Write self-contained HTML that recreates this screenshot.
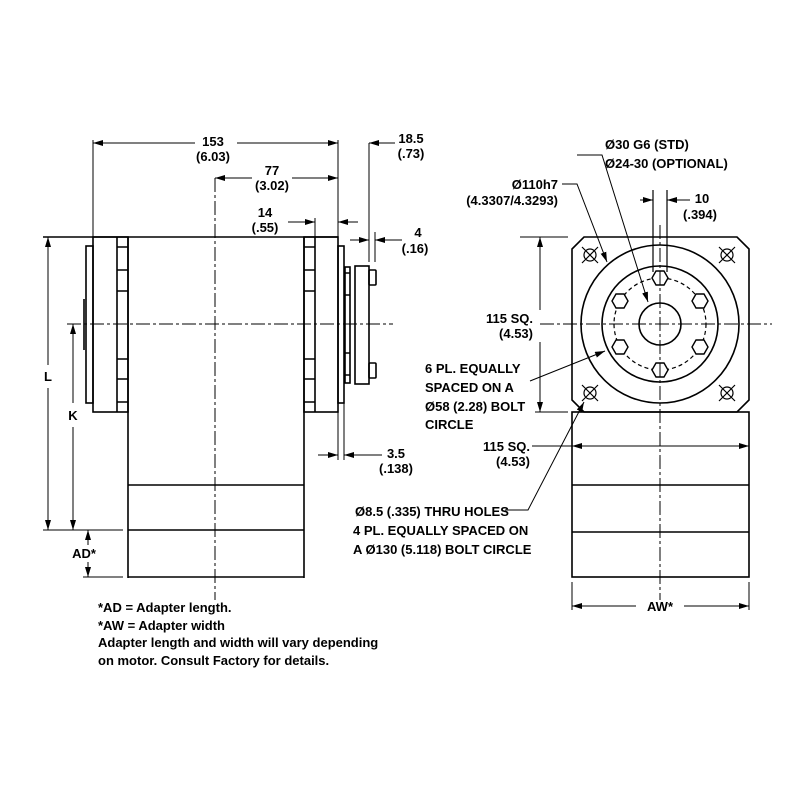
<!DOCTYPE html>
<html><head><meta charset="utf-8"><style>
html,body{margin:0;padding:0;background:#fff}
svg{display:block}
text{font-family:"Liberation Sans Narrow","Liberation Sans",sans-serif;font-weight:bold;font-size:13px;fill:#000}
</style></head><body>
<svg width="800" height="800" viewBox="0 0 800 800" xmlns="http://www.w3.org/2000/svg">
<defs>
<marker id="a" viewBox="0 0 10 6" refX="10" refY="3" markerWidth="10" markerHeight="6" orient="auto-start-reverse" markerUnits="userSpaceOnUse"><path d="M0,0 L10,3 L0,6 z" fill="#000"/></marker>
</defs>
<g stroke="#000" stroke-width="1.6" fill="none">
<line x1="43" y1="237" x2="338" y2="237"/>
<rect x="93" y="237" width="35" height="175"/>
<line x1="117" y1="237" x2="117" y2="412"/>
<path d="M117 247H128M117 270H128M117 291H128M117 359H128M117 379H128M117 402H128"/>
<rect x="86" y="246" width="7" height="157"/>
<line x1="84" y1="299" x2="84" y2="350"/>
<line x1="128" y1="237" x2="128" y2="578"/>
<line x1="304" y1="237" x2="304" y2="578"/>
<line x1="128" y1="485" x2="304" y2="485"/>
<line x1="128" y1="530" x2="304" y2="530"/>
<line x1="128" y1="577" x2="304" y2="577"/>
<rect x="304" y="237" width="34" height="175"/>
<line x1="315" y1="237" x2="315" y2="412"/>
<path d="M304 247H315M304 270H315M304 291H315M304 359H315M304 379H315M304 402H315"/>
<rect x="338" y="246" width="6" height="157"/>
<rect x="345" y="267" width="5" height="116"/>
<path d="M345 273H350M345 295H350M345 353H350M345 375H350"/>
<rect x="355" y="266" width="14" height="118"/>
<rect x="369" y="270" width="7" height="15" rx="1"/>
<rect x="369" y="363" width="7" height="15" rx="1"/>
<line x1="67" y1="324" x2="393" y2="324" stroke-width="1" stroke-dasharray="14,3,3,3"/>
<line x1="215" y1="178" x2="215" y2="600" stroke-width="1" stroke-dasharray="14,3,3,3"/>
<line x1="93" y1="140" x2="93" y2="237" stroke-width="1"/>
<line x1="338" y1="140" x2="338" y2="237" stroke-width="1"/>
<path d="M93 143H195" stroke-width="1" marker-start="url(#a)"/>
<path d="M237 143H338" stroke-width="1" marker-end="url(#a)"/>
<path d="M215 178H252" stroke-width="1" marker-start="url(#a)"/>
<path d="M292 178H338" stroke-width="1" marker-end="url(#a)"/>
<line x1="315" y1="218" x2="315" y2="237" stroke-width="1"/>
<path d="M288 222H315" stroke-width="1" marker-end="url(#a)"/>
<path d="M358 222H338" stroke-width="1" marker-end="url(#a)"/>
<line x1="369" y1="143" x2="369" y2="262" stroke-width="1"/>
<path d="M395 143H369" stroke-width="1" marker-end="url(#a)"/>
<line x1="375" y1="232" x2="375" y2="262" stroke-width="1"/>
<path d="M350 240H369" stroke-width="1" marker-end="url(#a)"/>
<path d="M402 240H375" stroke-width="1" marker-end="url(#a)"/>
<line x1="338" y1="412" x2="338" y2="460" stroke-width="1"/>
<line x1="344" y1="403" x2="344" y2="460" stroke-width="1"/>
<path d="M318 455H338" stroke-width="1" marker-end="url(#a)"/>
<path d="M382 455H344" stroke-width="1" marker-end="url(#a)"/>
<path d="M48 365V237" stroke-width="1" marker-end="url(#a)"/>
<path d="M48 388V530" stroke-width="1" marker-end="url(#a)"/>
<path d="M73 403V324" stroke-width="1" marker-end="url(#a)"/>
<path d="M73 427V530" stroke-width="1" marker-end="url(#a)"/>
<line x1="43" y1="530" x2="123" y2="530" stroke-width="1"/>
<line x1="83" y1="577" x2="123" y2="577" stroke-width="1"/>
<path d="M88 545V530" stroke-width="1" marker-end="url(#a)"/>
<path d="M88 562V577" stroke-width="1" marker-end="url(#a)"/>
<path d="M584 237H737L749 249V400L737 412H584L572 400V249Z"/>
<circle cx="660" cy="324" r="79"/>
<circle cx="660" cy="324" r="58"/>
<circle cx="660" cy="324" r="46" stroke-width="1.2" stroke-dasharray="4,3"/>
<circle cx="660" cy="324" r="21"/>
<g stroke-width="1.4" fill="#fff">
<polygon points="668,278 664,285 656,285 652,278 656,271 664,271"/>
<polygon points="668,370 664,377 656,377 652,370 656,363 664,363"/>
<polygon points="708,301 704,308 696,308 692,301 696,294 704,294"/>
<polygon points="708,347 704,354 696,354 692,347 696,340 704,340"/>
<polygon points="628,301 624,308 616,308 612,301 616,294 624,294"/>
<polygon points="628,347 624,354 616,354 612,347 616,340 624,340"/>
</g>
<g stroke-width="1.2">
<circle cx="590" cy="255" r="6"/><path d="M582 247L598 263M598 247L582 263"/>
<circle cx="727" cy="255" r="6"/><path d="M719 247L735 263M735 247L719 263"/>
<circle cx="590" cy="393" r="6"/><path d="M582 385L598 401M598 385L582 401"/>
<circle cx="727" cy="393" r="6"/><path d="M719 385L735 401M735 385L719 401"/>
</g>
<line x1="653" y1="190" x2="653" y2="272" stroke-width="1.2"/>
<line x1="667" y1="190" x2="667" y2="272" stroke-width="1.2"/>
<path d="M640 200H653" stroke-width="1" marker-end="url(#a)"/>
<path d="M690 200H667" stroke-width="1" marker-end="url(#a)"/>
<line x1="660" y1="225" x2="660" y2="600" stroke-width="1" stroke-dasharray="14,3,3,3"/>
<line x1="540" y1="324" x2="772" y2="324" stroke-width="1" stroke-dasharray="14,3,3,3"/>
<rect x="572" y="412" width="177" height="165"/>
<line x1="572" y1="485" x2="749" y2="485"/>
<line x1="572" y1="532" x2="749" y2="532"/>
<line x1="520" y1="237" x2="568" y2="237" stroke-width="1"/>
<line x1="535" y1="412" x2="568" y2="412" stroke-width="1"/>
<path d="M540 310V237" stroke-width="1" marker-end="url(#a)"/>
<path d="M540 342V412" stroke-width="1" marker-end="url(#a)"/>
<path d="M532 446H749" stroke-width="1" marker-end="url(#a)"/>
<path d="M600 446H572" stroke-width="1" marker-end="url(#a)"/>
<line x1="572" y1="582" x2="572" y2="610" stroke-width="1"/>
<line x1="749" y1="582" x2="749" y2="610" stroke-width="1"/>
<path d="M636 606H572" stroke-width="1" marker-end="url(#a)"/>
<path d="M684 606H749" stroke-width="1" marker-end="url(#a)"/>
<path d="M577 155H602L648 302" stroke-width="1" marker-end="url(#a)"/>
<path d="M562 184H577L607 262" stroke-width="1" marker-end="url(#a)"/>
<path d="M530 381L605 351" stroke-width="1" marker-end="url(#a)"/>
<path d="M505 510H528L584 402" stroke-width="1" marker-end="url(#a)"/>
</g>
<text x="213" y="146" text-anchor="middle">153</text>
<text x="213" y="161" text-anchor="middle">(6.03)</text>
<text x="272" y="175" text-anchor="middle">77</text>
<text x="272" y="190" text-anchor="middle">(3.02)</text>
<text x="265" y="217" text-anchor="middle">14</text>
<text x="265" y="232" text-anchor="middle">(.55)</text>
<text x="411" y="143" text-anchor="middle">18.5</text>
<text x="411" y="158" text-anchor="middle">(.73)</text>
<text x="418" y="237" text-anchor="middle">4</text>
<text x="415" y="253" text-anchor="middle">(.16)</text>
<text x="396" y="458" text-anchor="middle">3.5</text>
<text x="396" y="473" text-anchor="middle">(.138)</text>
<text x="48" y="381" text-anchor="middle">L</text>
<text x="73" y="420" text-anchor="middle">K</text>
<text x="84" y="558" text-anchor="middle">AD*</text>
<text x="605" y="149">Ø30 G6 (STD)</text>
<text x="605" y="168">Ø24-30 (OPTIONAL)</text>
<text x="558" y="189" text-anchor="end">Ø110h7</text>
<text x="558" y="205" text-anchor="end">(4.3307/4.3293)</text>
<text x="702" y="203" text-anchor="middle">10</text>
<text x="700" y="219" text-anchor="middle">(.394)</text>
<text x="533" y="323" text-anchor="end">115 SQ.</text>
<text x="533" y="338" text-anchor="end">(4.53)</text>
<text x="530" y="451" text-anchor="end">115 SQ.</text>
<text x="530" y="466" text-anchor="end">(4.53)</text>
<text x="425" y="373">6 PL. EQUALLY</text>
<text x="425" y="392">SPACED ON A</text>
<text x="425" y="411">Ø58 (2.28) BOLT</text>
<text x="425" y="429">CIRCLE</text>
<text x="355" y="516">Ø8.5 (.335) THRU HOLES</text>
<text x="353" y="535">4 PL. EQUALLY SPACED ON</text>
<text x="353" y="554">A Ø130 (5.118) BOLT CIRCLE</text>
<text x="660" y="611" text-anchor="middle">AW*</text>
<text x="98" y="612">*AD = Adapter length.</text>
<text x="98" y="630">*AW = Adapter width</text>
<text x="98" y="647">Adapter length and width will vary depending</text>
<text x="98" y="665">on motor.   Consult Factory for details.</text>
</svg>
</body></html>
